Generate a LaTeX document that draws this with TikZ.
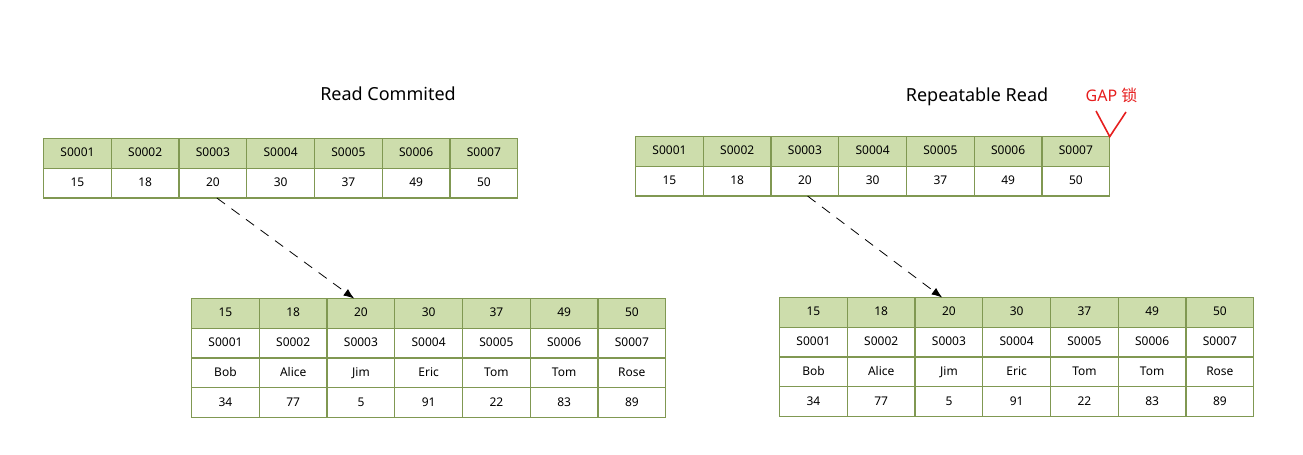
\documentclass[tikz,border=0pt]{standalone}
\usepackage{fontspec}
\setmainfont{Noto Sans}
\newfontfamily\cjk{Noto Sans CJK SC}
\usepackage{tikz}
\usetikzlibrary{matrix,arrows.meta}
\definecolor{hdrgreen}{RGB}{205,221,172}
\definecolor{edgegreen}{RGB}{128,152,82}
\definecolor{gapred}{RGB}{230,30,30}
\tikzset{
	cell/.style={draw=edgegreen,line width=0.9pt,minimum width=50.8pt,minimum height=22.3pt,text height=7pt,text depth=2pt,inner sep=0pt,font=\fontsize{9}{10}\selectfont},
	idxtable/.style={matrix of nodes,nodes in empty cells,nodes={cell},inner sep=0pt,outer sep=0pt,column sep=-0.9pt,row sep=-0.9pt,anchor=north west,row 1/.style={nodes={fill=hdrgreen}}},
	lookup/.style={dash pattern=on 7.5pt off 6pt,line width=0.6pt,-{Latex[length=8pt,width=6pt]}},
	title/.style={font=\fontsize{13.5}{15}\selectfont}
}
\begin{document}
\begin{tikzpicture}[x=0.75pt,y=-0.75pt]
		\useasboundingbox (0,0) rectangle (1303,454);
		% Read Commited
		\node [title] (rcTitle) at (388,94) {Read Commited};
		\matrix (rcTop)[idxtable] at (43,138)
		{
		S0001&S0002&S0003&S0004&S0005&S0006&S0007\\
		15&18&20&30&37&49&50\\
		};
		\matrix (rcRows)[idxtable] at (191,298)
		{
		15&18&20&30&37&49&50\\
		S0001&S0002&S0003&S0004&S0005&S0006&S0007\\
		Bob&Alice&Jim&Eric&Tom&Tom&Rose\\
		34&77&5&91&22&83&89\\
		};
		\draw [lookup] ([xshift=3pt]rcTop-2-3.south) -- ([xshift=-5pt]rcRows-1-3.north);
		% Repeatable Read
		\node [title] (rrTitle) at (977,97) {Repeatable Read};
		\matrix (rrTop)[idxtable] at (635,136)
		{
		S0001&S0002&S0003&S0004&S0005&S0006&S0007\\
		15&18&20&30&37&49&50\\
		};
		\matrix (rrRows)[idxtable] at (779,297)
		{
		15&18&20&30&37&49&50\\
		S0001&S0002&S0003&S0004&S0005&S0006&S0007\\
		Bob&Alice&Jim&Eric&Tom&Tom&Rose\\
		34&77&5&91&22&83&89\\
		};
		\draw [lookup] ([xshift=2pt]rrTop-2-3.south) -- ([xshift=-5pt]rrRows-1-3.north);
		% gap lock
		\node [gapred,font=\fontsize{12}{14}\selectfont,anchor=west] (gap) at (1081,95) {GAP {\cjk 锁}};
		\coordinate (gapL) at (1096,111);
		\coordinate (gapR) at (1126,112);
		\draw [gapred,line width=1.2pt] (gapL) -- (rrTop-1-7.north east) -- (gapR);
	\end{tikzpicture}
\end{document}
